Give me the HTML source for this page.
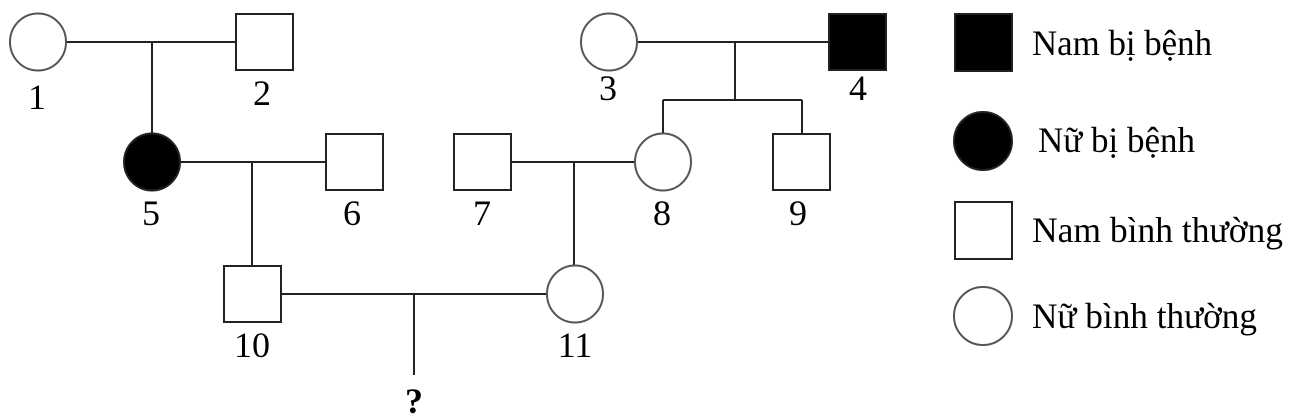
<!DOCTYPE html>
<html><head><meta charset="utf-8"><style>html,body{margin:0;padding:0;background:#fff}svg{display:block}</style></head>
<body>
<svg width="1296" height="418" viewBox="0 0 1296 418" xmlns="http://www.w3.org/2000/svg" font-family="Liberation Serif, serif" font-size="36" fill="#000">
<g stroke="#222" stroke-width="2" fill="none">
<line x1="66" y1="42" x2="236" y2="42"/>
<line x1="152" y1="42" x2="152" y2="134"/>
<line x1="180" y1="162" x2="326" y2="162"/>
<line x1="252" y1="162" x2="252" y2="266"/>
<line x1="281" y1="294" x2="547" y2="294"/>
<line x1="414" y1="294" x2="414" y2="375"/>
<line x1="511" y1="162" x2="635" y2="162"/>
<line x1="574" y1="162" x2="574" y2="266"/>
<line x1="637" y1="42" x2="829" y2="42"/>
<line x1="735" y1="42" x2="735" y2="100"/>
<line x1="663" y1="100" x2="802" y2="100"/>
<line x1="663" y1="100" x2="663" y2="134"/>
<line x1="802" y1="100" x2="802" y2="134"/>
<ellipse cx="38" cy="42" rx="28" ry="28.5" stroke="#555"/>
<rect x="236" y="14" width="57" height="56"/>
<ellipse cx="609" cy="42" rx="28" ry="28.5" stroke="#555"/>
<rect x="829" y="14" width="57" height="56" fill="#000"/>
<ellipse cx="152" cy="162" rx="28" ry="28.5" fill="#000"/>
<rect x="326" y="134" width="57" height="56"/>
<rect x="454" y="134" width="57" height="56"/>
<ellipse cx="663" cy="162" rx="28" ry="28.5" stroke="#555"/>
<rect x="773" y="134" width="57" height="56"/>
<rect x="224" y="266" width="57" height="56"/>
<ellipse cx="575" cy="294" rx="28" ry="28.5" stroke="#555"/>
<rect x="955" y="14" width="57" height="57" fill="#000"/>
<ellipse cx="983" cy="141" rx="29" ry="29" fill="#000"/>
<rect x="955" y="202" width="57" height="57"/>
<ellipse cx="983" cy="316" rx="29" ry="29" stroke="#555"/>
</g>
<g text-anchor="middle">
<text x="37" y="109">1</text>
<text x="262" y="105">2</text>
<text x="608" y="100">3</text>
<text x="858" y="100">4</text>
<text x="151" y="225">5</text>
<text x="352" y="225">6</text>
<text x="482" y="225">7</text>
<text x="662" y="225">8</text>
<text x="798" y="225">9</text>
<text x="252" y="357">10</text>
<text x="575" y="357">11</text>
<text x="414" y="413" font-weight="bold">?</text>
</g>
<g font-size="36">
<text x="1032" y="55" textLength="180" lengthAdjust="spacingAndGlyphs">Nam bị bệnh</text>
<text x="1038" y="152" textLength="157" lengthAdjust="spacingAndGlyphs">Nữ bị bệnh</text>
<text x="1032" y="242" textLength="251" lengthAdjust="spacingAndGlyphs">Nam bình thường</text>
<text x="1032" y="328" textLength="225" lengthAdjust="spacingAndGlyphs">Nữ bình thường</text>
</g>
</svg>
</body></html>
